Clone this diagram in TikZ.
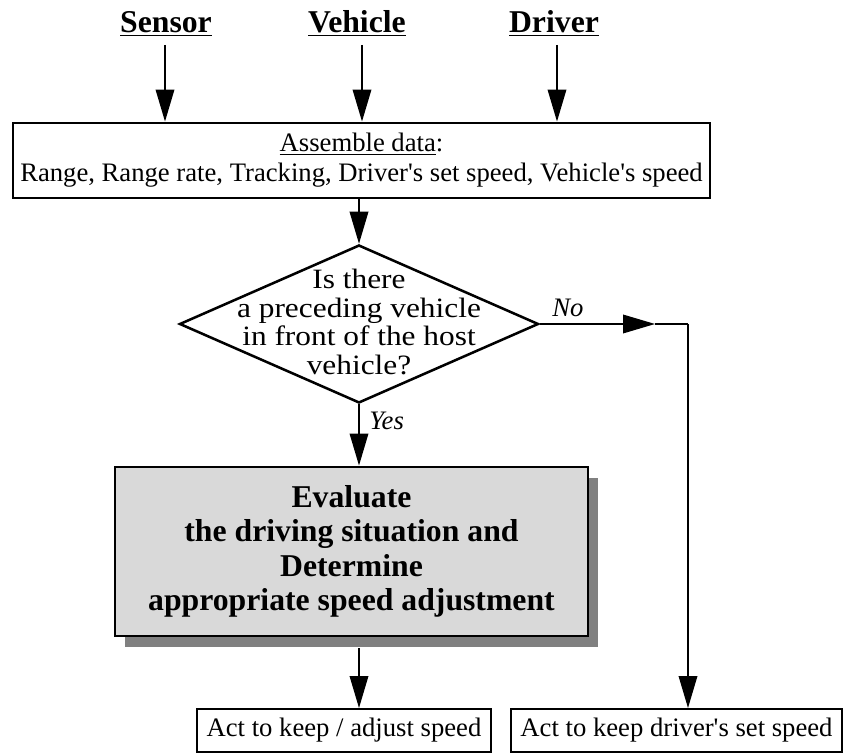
\documentclass[tikz,border=0pt]{standalone}
\usepackage{fontspec}
\setmainfont{Liberation Serif}
\newfontfamily\decfont{Liberation Serif}[FakeStretch=1.12]
\usetikzlibrary{arrows.meta,shapes.geometric,shadows}
\begin{document}
\begin{tikzpicture}[x=0.75pt,y=-0.75pt,
  arr/.style={-{Triangle[length=24pt,width=14pt]},line width=1pt},
  plainline/.style={line width=1pt},
  hdr/.style={font=\fontsize{23.8}{28}\selectfont\bfseries,anchor=base,inner sep=0pt},
  databox/.style={draw,line width=2.2pt,inner sep=0pt,align=center,
    font=\fontsize{20}{22.5}\selectfont},
  decbox/.style={draw,diamond,line width=1.9pt,inner sep=0pt},
  dectext/.style={align=center,inner sep=0pt,font=\decfont\fontsize{21}{21.4}\selectfont},
  evalbox/.style={draw,line width=2.2pt,inner sep=0pt,align=center,fill=black!15,
    font=\fontsize{23.8}{25.9}\selectfont\bfseries,
    drop shadow={shadow xshift=7.5pt,shadow yshift=-8pt,fill=black!50,opacity=1}},
  actbox/.style={draw,line width=1.5pt,inner sep=0pt,align=center,
    font=\fontsize{20}{22.5}\selectfont},
  lbl/.style={font=\fontsize{20}{22}\selectfont\itshape,inner sep=0pt,anchor=base west}
]
\useasboundingbox (0,0) rectangle (843,755);

% headers
\node[hdr] (sensor)  at (166,33) {\underline{Sensor}};
\node[hdr] (vehicle) at (357,33) {\underline{Vehicle}};
\node[hdr] (driver)  at (554,33) {\underline{Driver}};

% assemble box
\node[databox,minimum width=522.75pt,minimum height=56.25pt] (data) at (361.5,160.5)
  {\underline{Assemble data}:\\Range, Range rate, Tracking, Driver\textquotesingle s set speed, Vehicle\textquotesingle s speed};

% decision
\node[decbox,minimum width=269.25pt,minimum height=118.5pt] (dec) at (359,324) {};
\node[dectext] (dect) at (359,322) {Is there\\a preceding vehicle\\in front of the host\\vehicle?};

% evaluate box
\node[evalbox,minimum width=354.75pt,minimum height=126.75pt] (eval) at (351.5,551.5)
  {Evaluate\\the driving situation and\\Determine\\appropriate speed adjustment};

% action boxes
\node[actbox,minimum width=220.5pt,minimum height=32.25pt] (act1) at (344,730.5) {Act to keep / adjust speed};
\node[actbox,minimum width=248.25pt,minimum height=32.25pt] (act2) at (676.5,730.5) {Act to keep driver\textquotesingle s set speed};

% connectors
\draw[arr] ([xshift=-0.75pt,yshift=-9pt]sensor.base) -- ([xshift=-0.75pt]sensor.base |- data.north);
\draw[arr] ([xshift=3.75pt,yshift=-9pt]vehicle.base) -- ([xshift=3.75pt]vehicle.base |- data.north);
\draw[arr] ([xshift=2.25pt,yshift=-9pt]driver.base) -- ([xshift=2.25pt]driver.base |- data.north);
\draw[arr] (data.south -| dec.north) -- (dec.north);
\draw[arr] (dec.south) -- (dec.south |- eval.north);
\draw[arr] ([yshift=-8pt]eval.south -| dec.south) -- (act1.north -| dec.south);

\coordinate (nomid) at (655,324);
\coordinate (corner) at (688,324);
\draw[arr] (dec.east) -- (nomid);
\draw[plainline] (nomid) -- (corner);
\draw[arr] (corner) -- (corner |- act2.north);

% labels
\node[lbl] (yes) at (369,430) {Yes};
\node[lbl] (no) at (552,317) {No};
\end{tikzpicture}
\end{document}
